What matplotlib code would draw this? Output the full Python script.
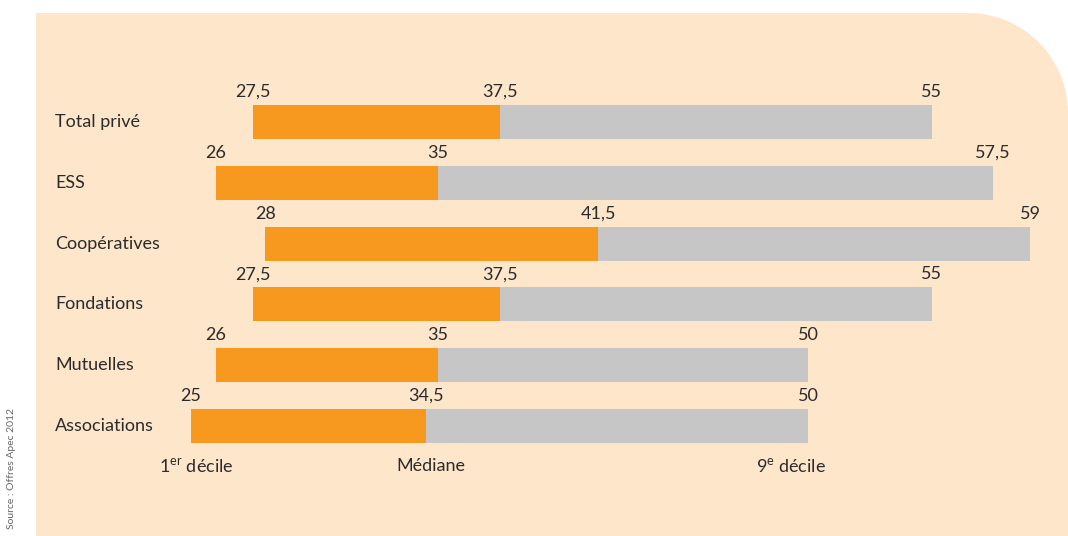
import matplotlib
matplotlib.use("Agg")
import matplotlib.pyplot as plt
import numpy as np
from matplotlib.patches import PathPatch
from matplotlib.path import Path
from matplotlib import font_manager

# Data
categories = ['Total privé', 'ESS', 'Coopératives', 'Fondations', 'Mutuelles', 'Associations']
decile1 = [27.5, 26, 28, 27.5, 26, 25]
mediane = [37.5, 35, 41.5, 37.5, 35, 34.5]
decile9 = [55, 57.5, 59, 55, 50, 50]

orange = '#F7991E'
grey = '#C6C6C7'
panel = '#FEE6CB'
txt = '#2b2b2b'

# pick a narrow font if installed
names = {f.name for f in font_manager.fontManager.ttflist}
fam = 'DejaVu Sans'
for cand in ['Liberation Sans Narrow', 'Lato', 'Liberation Sans']:
    if cand in names:
        fam = cand
        break
plt.rcParams['font.family'] = [fam, 'DejaVu Sans']
plt.rcParams['mathtext.fontset'] = 'custom'
plt.rcParams['mathtext.rm'] = fam

W, H = 1068, 536
fig = plt.figure(figsize=(W / 100, H / 100), dpi=100)
fig.patch.set_facecolor('white')

# peach panel with rounded top-right corner (pixel coords, y down)
r = 100
ang = np.linspace(np.pi / 2, 0, 30)
pts = [(36, 536), (36, 13), (1068 - r, 13)]
pts += [(1068 - r + r * np.cos(a), 13 + r - r * np.sin(a)) for a in ang]
pts += [(1068, 536), (36, 536)]
verts = [(x / W, 1 - y / H) for x, y in pts]
fig.patches.append(PathPatch(Path(verts), transform=fig.transFigure,
                             facecolor=panel, edgecolor='none', zorder=-5))

fig.text(12 / W, 1 - 408 / H, 'Source : Offres Apec 2012', rotation=90,
         ha='center', va='top', fontsize=7.5, color='#666666')

ax = fig.add_axes([0, 0, 1, 1])
ax.set_facecolor('none')
ax.set_xlim(17.26, 60.53)
ax.set_ylim(6.81, -2.007)
ax.axis('off')

y = np.arange(len(categories))
d1 = np.array(decile1)
md = np.array(mediane)
d9 = np.array(decile9)
ax.barh(y, md - d1, left=d1, height=0.56, color=orange, zorder=2)
ax.barh(y, d9 - md, left=md, height=0.56, color=grey, zorder=2)

def fmt(v):
    return ('%g' % v).replace('.', ',')

for i, cat in enumerate(categories):
    ax.text(17.26 + 55 / 24.68, i, cat, ha='left', va='center', fontsize=13, color=txt)
    for v in (decile1[i], mediane[i], decile9[i]):
        ax.text(v, i - 0.36, fmt(v), ha='center', va='bottom', fontsize=13, color=txt)

yb = len(categories) - 0.34
ax.text(25.2, yb, r'1$^{\mathrm{er}}$ décile', ha='center', va='center', fontsize=13, color=txt)
ax.text(34.7, yb, 'Médiane', ha='center', va='center', fontsize=13, color=txt)
ax.text(49.3, yb, r'9$^{\mathrm{e}}$ décile', ha='center', va='center', fontsize=13, color=txt)

fig.savefig('out.png', dpi=100)
